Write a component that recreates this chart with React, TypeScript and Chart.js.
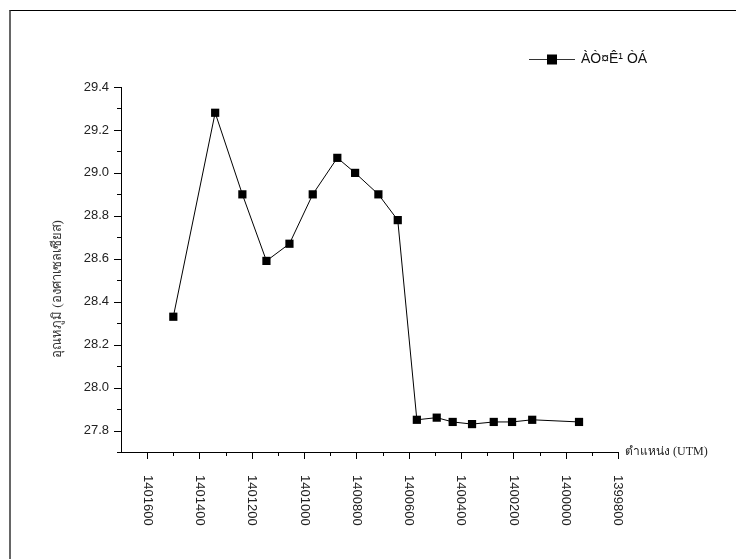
import React, { useEffect, useRef } from "react";
import { Chart, registerables } from "chart.js";

Chart.register(...registerables);

const positions = [1401500, 1401340, 1401236, 1401144, 1401056, 1400967, 1400873, 1400805, 1400716, 1400642, 1400569, 1400493, 1400432, 1400358, 1400275, 1400205, 1400128, 1399949];
const temperatures = [28.33, 29.28, 28.90, 28.59, 28.67, 28.90, 29.07, 29.00, 28.90, 28.78, 27.85, 27.86, 27.84, 27.83, 27.84, 27.84, 27.85, 27.84];
const xMajorTicks = [1401600, 1401400, 1401200, 1401000, 1400800, 1400600, 1400400, 1400200, 1400000, 1399800];
const xMinorTicks = [1401500, 1401300, 1401100, 1400900, 1400700, 1400500, 1400300, 1400100, 1399900];
const yMajorTicks = [27.8, 28.0, 28.2, 28.4, 28.6, 28.8, 29.0, 29.2, 29.4];
const yMinorTicks = [27.7, 27.9, 28.1, 28.3, 28.5, 28.7, 28.9, 29.1, 29.3];
const seriesName = "ÀÒ¤Ê¹ ÒÁ";
const yTitle = "อุณหภูมิ (องศาเซลเซียส)";
const xTitle = "ตำแหน่ง (UTM)";

const decorPlugin = {
  id: "decor",
  afterDraw(chart: any) {
    const ctx = chart.ctx;
    const xs = chart.scales.x;
    const ys = chart.scales.y;
    const area = chart.chartArea;
    ctx.save();
    ctx.strokeStyle = "#000";
    ctx.lineWidth = 1;
    const drawXTick = (v: number, len: number) => {
      const px = Math.round(xs.getPixelForValue(v)) + 0.5;
      ctx.beginPath();
      ctx.moveTo(px, area.bottom);
      ctx.lineTo(px, area.bottom + len);
      ctx.stroke();
    };
    xMajorTicks.forEach((v) => drawXTick(v, 7));
    xMinorTicks.forEach((v) => drawXTick(v, 4));
    const drawYTick = (v: number, len: number) => {
      const py = Math.round(ys.getPixelForValue(v)) + 0.5;
      ctx.beginPath();
      ctx.moveTo(area.left, py);
      ctx.lineTo(area.left - len, py);
      ctx.stroke();
    };
    yMajorTicks.forEach((v) => drawYTick(v, 7));
    yMinorTicks.forEach((v) => drawYTick(v, 4));

    ctx.fillStyle = "#222";
    ctx.font = "13px 'Liberation Sans', Arial, sans-serif";
    ctx.textAlign = "right";
    ctx.textBaseline = "middle";
    yMajorTicks.forEach((v) => {
      ctx.fillText(v.toFixed(1), area.left - 12, ys.getPixelForValue(v));
    });
    xMajorTicks.forEach((v) => {
      const px = xs.getPixelForValue(v);
      ctx.save();
      ctx.translate(px, area.bottom + 23);
      ctx.rotate(Math.PI / 2);
      ctx.textAlign = "left";
      ctx.textBaseline = "middle";
      ctx.fillText(String(v), 0, 0);
      ctx.restore();
    });

    ctx.save();
    ctx.fillStyle = "#333";
    ctx.font = "13px 'Liberation Serif', 'Times New Roman', serif";
    ctx.translate(58, 289);
    ctx.rotate(-Math.PI / 2);
    ctx.textAlign = "center";
    ctx.textBaseline = "middle";
    ctx.fillText(yTitle, 0, 0);
    ctx.restore();

    ctx.fillStyle = "#222";
    ctx.font = "12px 'Liberation Serif', 'Times New Roman', serif";
    ctx.textAlign = "left";
    ctx.textBaseline = "middle";
    ctx.fillText(xTitle, area.right + 7, area.bottom);

    const ly = 59.5;
    ctx.strokeStyle = "#333";
    ctx.lineWidth = 1.2;
    ctx.beginPath();
    ctx.moveTo(529, ly);
    ctx.lineTo(575, ly);
    ctx.stroke();
    ctx.fillStyle = "#000";
    ctx.fillRect(547, ly - 5, 10, 10);
    ctx.fillStyle = "#111";
    ctx.font = "14px 'Liberation Sans', Arial, sans-serif";
    ctx.textAlign = "left";
    ctx.textBaseline = "middle";
    ctx.fillText(seriesName, 581, ly);
    ctx.restore();
  },
};

export default function App() {
  const canvasRef = useRef<HTMLCanvasElement | null>(null);

  useEffect(() => {
    if (!canvasRef.current) return;
    const data = positions.map((x, i) => ({ x, y: temperatures[i] }));
    const chart = new Chart(canvasRef.current, {
      type: "line",
      data: {
        datasets: [
          {
            label: seriesName,
            data,
            borderColor: "#000",
            borderWidth: 1,
            backgroundColor: "#000",
            pointStyle: "rect",
            pointRadius: 5.8,
            pointBorderWidth: 0,
            pointBackgroundColor: "#000",
            tension: 0,
          },
        ],
      },
      options: {
        animation: false,
        responsive: false,
        devicePixelRatio: 1,
        layout: { padding: { left: 121, right: 118, top: 87, bottom: 107 } },
        plugins: { legend: { display: false }, tooltip: { enabled: false } },
        scales: {
          x: {
            type: "linear",
            reverse: true,
            min: 1399800,
            max: 1401700,
            grid: { display: false },
            border: { display: true, color: "#000", width: 1 },
            ticks: { display: false },
            afterFit: (s: any) => { s.height = 0; },
          },
          y: {
            type: "linear",
            min: 27.7,
            max: 29.4,
            grid: { display: false },
            border: { display: true, color: "#000", width: 1 },
            ticks: { display: false },
            afterFit: (s: any) => { s.width = 0; },
          },
        },
      },
      plugins: [decorPlugin],
    });
    return () => chart.destroy();
  }, []);

  return (
    <div style={{ position: "absolute", left: 0, top: 0, width: 736, height: 559, overflow: "hidden", background: "#fff" }}>
      <div style={{ position: "absolute", left: 9, top: 10, width: 800, height: 600, borderLeft: "2px solid #666", borderTop: "1px solid #000" }} />
      <canvas ref={canvasRef} width={736} height={559} style={{ position: "absolute", left: 0, top: 0 }} />
    </div>
  );
}
